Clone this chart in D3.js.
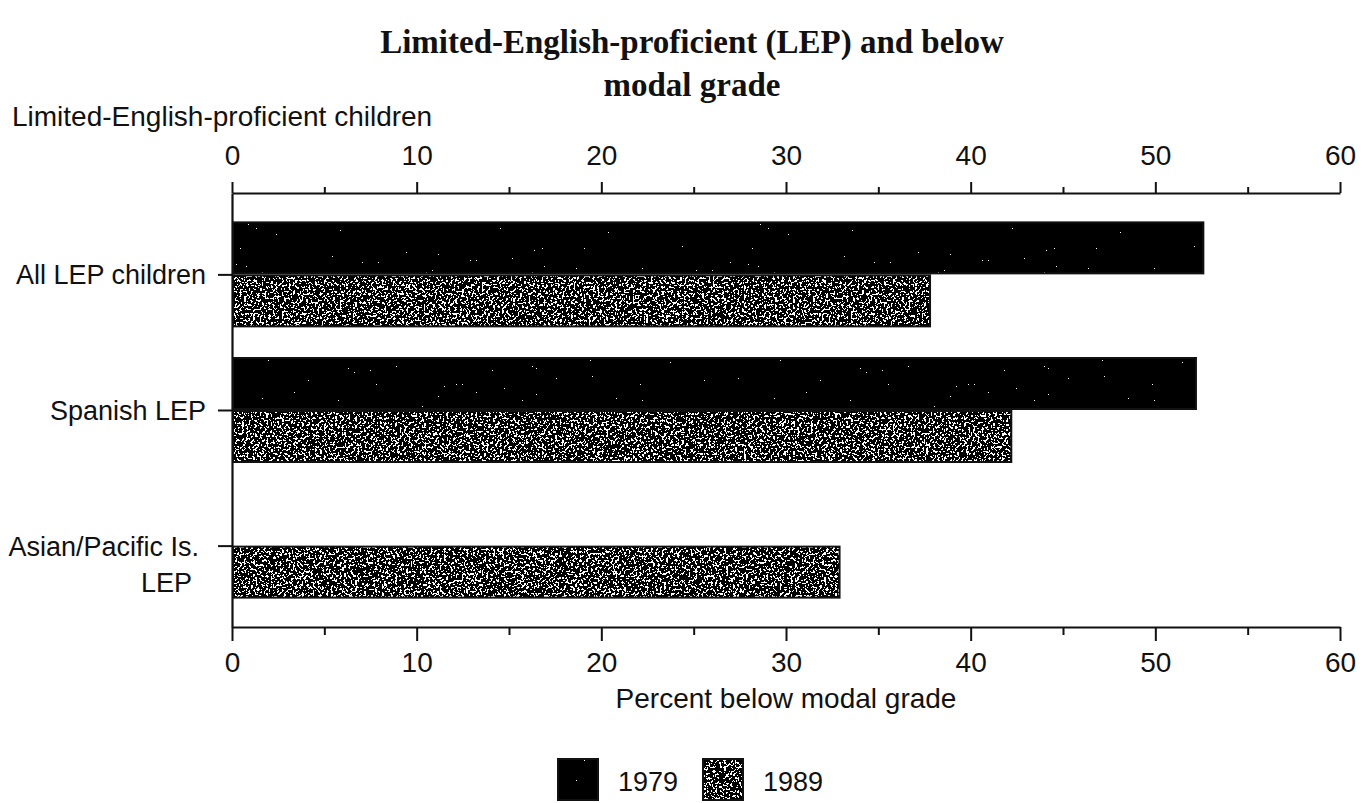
<!DOCTYPE html>
<html>
<head>
<meta charset="utf-8">
<script src="https://cdn.jsdelivr.net/npm/d3@7"></script>
<style>
  body { margin: 0; background: #fff; }
  svg { display: block; }
  .sans { font-family: "Liberation Sans", Arial, sans-serif; fill: #111; }
</style>
</head>
<body>
<div id="chart"></div>
<script>
const categories = ['All LEP children', 'Spanish LEP', 'Asian/Pacific Is. LEP'];
const categoryLines = [['All LEP children'], ['Spanish LEP'], ['Asian/Pacific Is.', 'LEP']];
const years = ['1979', '1989'];
const values1979 = [52.6, 52.2, null];
const values1989 = [37.8, 42.2, 32.9];
const tickValues = [0, 5, 10, 15, 20, 25, 30, 35, 40, 45, 50, 55, 60];

function drawChart() {
    const width = 1362;
    const height = 803;
    const plot = { left: 232, right: 1340, top: 193, bottom: 627 };
    const fontSize = '28px';

    const svg = d3.select('#chart')
        .append('svg')
        .attr('width', width)
        .attr('height', height);

    // speckle textures for the two years
    const defs = svg.append('defs');
    function texture(id, freq, seed, threshold) {
        const table = d3.range(40).map(i => (i / 40 < threshold ? 0 : 1)).join(' ');
        const f = defs.append('filter')
            .attr('id', id)
            .attr('x', 0).attr('y', 0).attr('width', 1).attr('height', 1)
            .attr('color-interpolation-filters', 'sRGB');
        f.append('feTurbulence')
            .attr('type', 'fractalNoise')
            .attr('baseFrequency', freq)
            .attr('numOctaves', 2)
            .attr('seed', seed)
            .attr('result', 'noise');
        f.append('feColorMatrix')
            .attr('in', 'noise')
            .attr('type', 'matrix')
            .attr('values', '1 0 0 0 0  1 0 0 0 0  1 0 0 0 0  0 0 0 0 1')
            .attr('result', 'grey');
        const ct = f.append('feComponentTransfer').attr('in', 'grey').attr('result', 'dots');
        ['feFuncR', 'feFuncG', 'feFuncB'].forEach(fn => {
            ct.append(fn).attr('type', 'discrete').attr('tableValues', table);
        });
        f.append('feComposite')
            .attr('in', 'dots')
            .attr('in2', 'SourceGraphic')
            .attr('operator', 'in');
    }
    texture('tex1979', 0.5, 4, 0.8);
    texture('tex1989', 0.45, 9, 0.56);

    const x = d3.scaleLinear()
        .domain([0, 60])
        .range([plot.left, plot.right]);

    const y = d3.scalePoint()
        .domain(categories)
        .range([plot.top, plot.bottom])
        .padding(0.6);

    const barH = 51;

    // title
    const title = svg.append('text')
        .attr('x', 692)
        .attr('text-anchor', 'middle')
        .style('font-family', '"Liberation Serif", "Times New Roman", serif')
        .style('font-weight', 'bold')
        .style('font-size', '33px')
        .style('fill', '#111');
    title.append('tspan').attr('x', 692).attr('y', 53).text('Limited-English-proficient (LEP) and below');
    title.append('tspan').attr('x', 692).attr('y', 96).text('modal grade');

    svg.append('text')
        .attr('class', 'sans')
        .attr('x', 12)
        .attr('y', 126)
        .style('font-size', fontSize)
        .text('Limited-English-proficient children');

    // top axis
    const topAxis = svg.append('g')
        .attr('transform', `translate(0, ${plot.top})`)
        .call(d3.axisTop(x)
            .tickValues(tickValues)
            .tickSize(11)
            .tickSizeOuter(0)
            .tickPadding(17)
            .tickFormat(d => d % 10 === 0 ? d : ''));
    topAxis.selectAll('.tick line')
        .attr('y2', d => d % 10 === 0 ? -11 : -6);

    // bottom axis
    const bottomAxis = svg.append('g')
        .attr('transform', `translate(0, ${plot.bottom})`)
        .call(d3.axisBottom(x)
            .tickValues(tickValues)
            .tickSize(14)
            .tickSizeOuter(0)
            .tickPadding(11)
            .tickFormat(d => d % 10 === 0 ? d : ''));
    bottomAxis.selectAll('.tick line')
        .attr('y2', d => d % 10 === 0 ? 14 : 8);

    [topAxis, bottomAxis].forEach(a => {
        a.select('.domain').attr('stroke', '#111').attr('stroke-width', 2.2);
        a.selectAll('.tick line').attr('stroke', '#111').attr('stroke-width', 2);
        a.selectAll('.tick text')
            .attr('class', 'sans')
            .style('font-size', fontSize)
            .style('font-family', '"Liberation Sans", Arial, sans-serif')
            .attr('fill', '#111');
    });

    // left axis
    const leftAxis = svg.append('g')
        .attr('transform', `translate(${plot.left}, 0)`)
        .call(d3.axisLeft(y)
            .tickSize(14)
            .tickSizeOuter(0)
            .tickFormat(''));
    leftAxis.select('.domain').attr('stroke', '#111').attr('stroke-width', 2.2);
    leftAxis.selectAll('.tick line').attr('stroke', '#111').attr('stroke-width', 2);

    categories.forEach((c, i) => {
        const lines = categoryLines[i];
        const t = svg.append('text')
            .attr('class', 'sans')
            .attr('text-anchor', 'end')
            .style('font-size', '27px');
        lines.forEach((ln, j) => {
            let tx = plot.left - 26;
            if (lines.length > 1) tx = j === 1 ? plot.left - 40 : plot.left - 33;
            t.append('tspan')
                .attr('x', tx)
                .attr('y', y(c) + 10 + j * 36)
                .text(ln);
        });
    });

    // bars
    const barData = [];
    categories.forEach((c, i) => {
        if (values1979[i] != null) barData.push({ category: c, year: '1979', value: values1979[i] });
        if (values1989[i] != null) barData.push({ category: c, year: '1989', value: values1989[i] });
    });

    const barY = d => d.year === '1979' ? y(d.category) - barH - 1 : y(d.category) + 1;

    svg.selectAll('.bar')
        .data(barData)
        .enter()
        .append('rect')
        .attr('class', 'bar')
        .attr('x', x(0) + 1)
        .attr('y', barY)
        .attr('width', d => x(d.value) - x(0) - 1)
        .attr('height', barH)
        .attr('fill', '#000')
        .attr('filter', d => `url(#tex${d.year})`);

    svg.selectAll('.bar-edge')
        .data(barData)
        .enter()
        .append('rect')
        .attr('class', 'bar-edge')
        .attr('x', x(0) + 1)
        .attr('y', barY)
        .attr('width', d => x(d.value) - x(0) - 1)
        .attr('height', barH)
        .attr('fill', 'none')
        .attr('stroke', '#111')
        .attr('stroke-width', 2);

    svg.append('text')
        .attr('class', 'sans')
        .attr('x', (plot.left + plot.right) / 2)
        .attr('y', 708)
        .attr('text-anchor', 'middle')
        .style('font-size', fontSize)
        .text('Percent below modal grade');

    // legend
    const legend = svg.append('g').attr('class', 'legend');
    const legendX = [558, 703];
    years.forEach((yr, i) => {
        legend.append('rect')
            .attr('x', legendX[i])
            .attr('y', 759)
            .attr('width', 40)
            .attr('height', 41)
            .attr('fill', '#000')
            .attr('filter', `url(#tex${yr})`);
        legend.append('rect')
            .attr('x', legendX[i])
            .attr('y', 759)
            .attr('width', 40)
            .attr('height', 41)
            .attr('fill', 'none')
            .attr('stroke', '#111')
            .attr('stroke-width', 2);
        legend.append('text')
            .attr('class', 'sans')
            .attr('x', legendX[i] + 60)
            .attr('y', 791)
            .style('font-size', '27px')
            .text(yr);
    });
}

drawChart();
</script>
</body>
</html>
